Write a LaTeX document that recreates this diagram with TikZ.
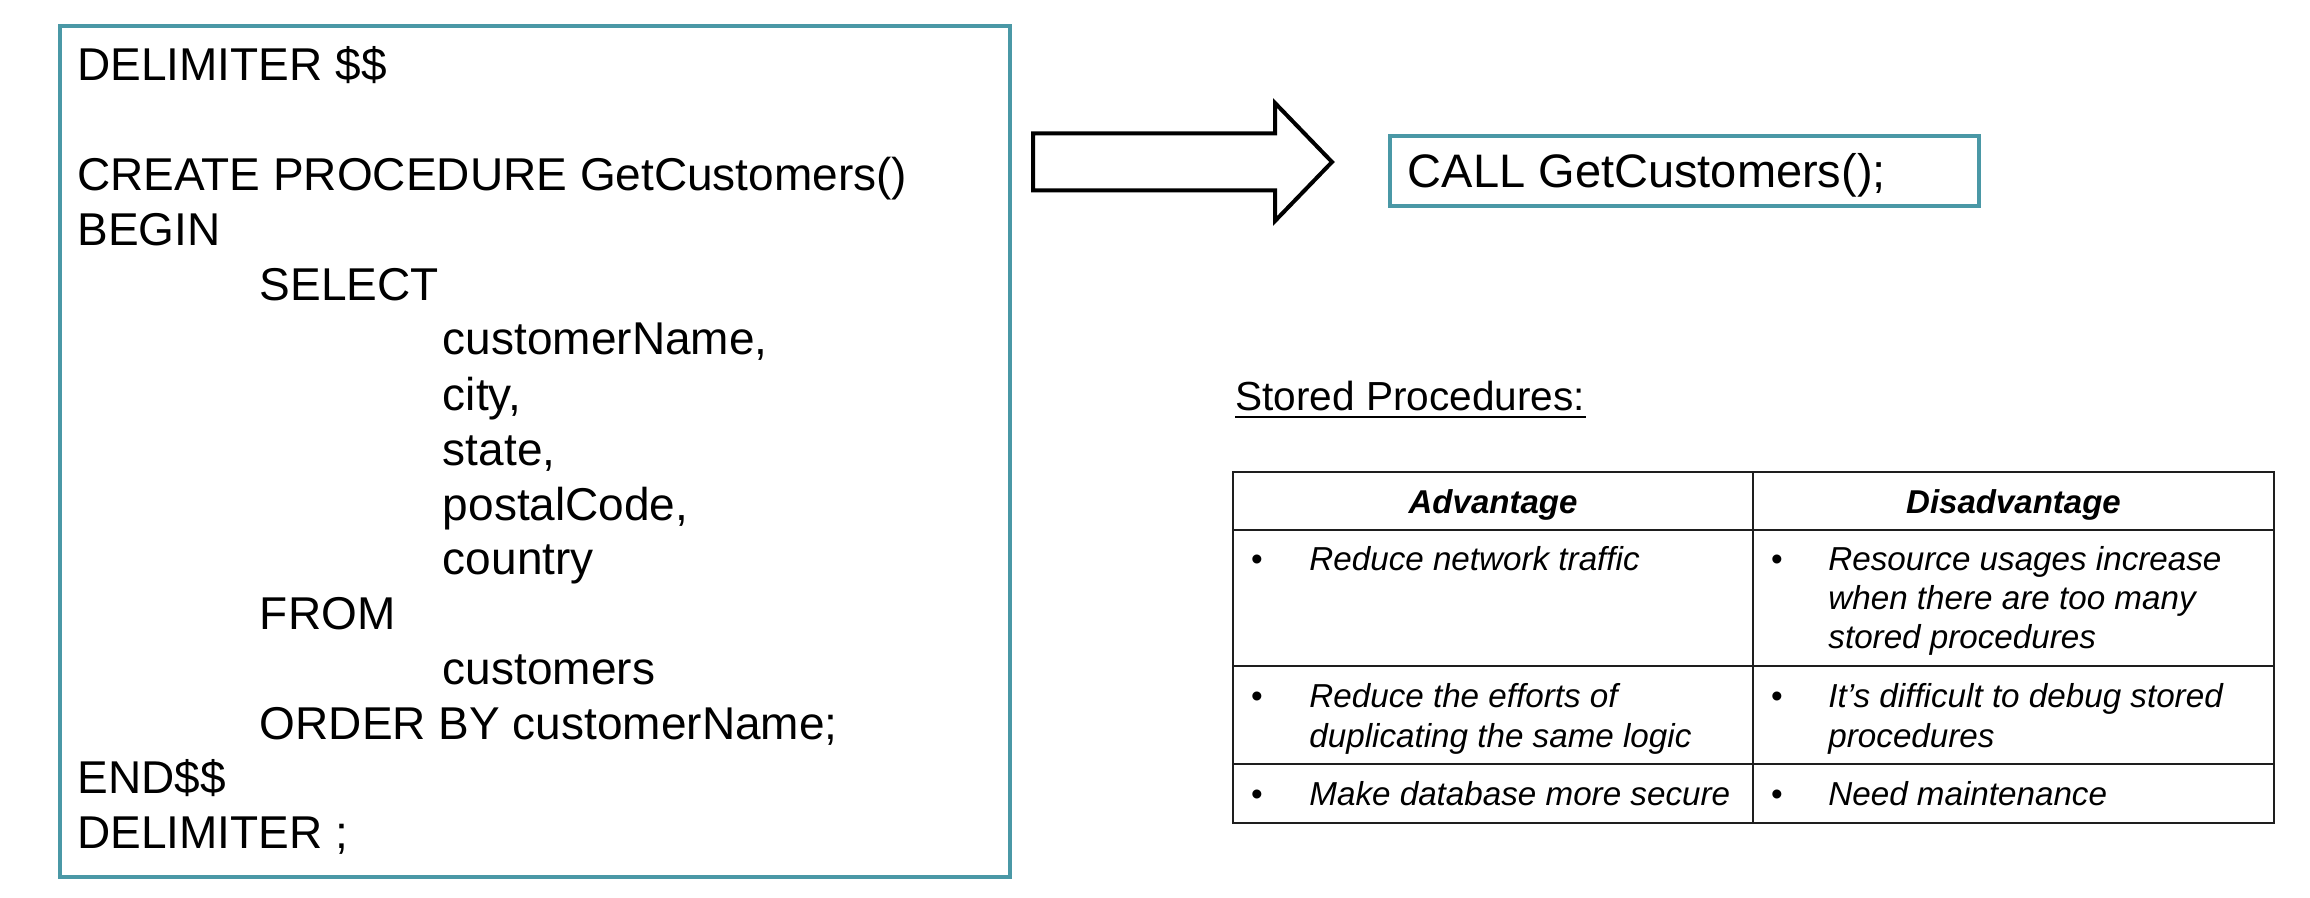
\documentclass[tikz,border=0pt]{standalone}
\usepackage{fontspec}
\setmainfont{Liberation Sans}
\definecolor{teal1}{RGB}{74,152,166}
\definecolor{tabline}{RGB}{30,30,30}
\begin{document}
\begin{tikzpicture}[x=0.5pt,y=-0.5pt,
  code/.style={anchor=base west,inner sep=0pt,font=\fontsize{23}{27}\selectfont},
  callt/.style={anchor=base west,inner sep=0pt,font=\fontsize{23.5}{27}\selectfont},
  hdr/.style={anchor=base,inner sep=0pt,font=\fontsize{16.5}{19}\selectfont\bfseries\itshape},
  cell/.style={anchor=base west,inner sep=0pt,font=\fontsize{16.6}{19}\selectfont\itshape},
  bul/.style={anchor=base,inner sep=0pt,font=\fontsize{16.6}{19}\selectfont},
  tealbox/.style={draw=teal1,line width=2pt,inner sep=0pt},
  tl/.style={draw=tabline,line width=1.3pt}]
\useasboundingbox (0,0) rectangle (2310,898);
\fill[white] (0,0) rectangle (2310,898);
% code box
\node[tealbox,minimum width=475pt,minimum height=425.5pt] (codebox) at (534.5,451.2) {};
\node[code] (l1) at (77,81) {DELIMITER \$\$};
\node[code] (l2) at (77,191) {CREATE PROCEDURE GetCustomers()};
\node[code] (l3) at (77,246) {BEGIN};
\node[code] (l4) at (259.5,301) {SELECT};
\node[code] (l5) at (442.5,355) {customerName,};
\node[code] (l6) at (442.5,410) {city,};
\node[code] (l7) at (442.5,465) {state,};
\node[code] (l8) at (442.5,520) {postalCode,};
\node[code] (l9) at (442.5,574) {country};
\node[code] (l10) at (259.5,629) {FROM};
\node[code] (l11) at (442.5,684) {customers};
\node[code] (l12) at (259.5,739) {ORDER BY customerName;};
\node[code] (l13) at (77,793) {END\$\$};
\node[code] (l14) at (77,848) {DELIMITER ;};
% block arrow
\draw[line width=2pt,line join=miter,fill=white] (1033,133.5) -- (1275,133.5) -- (1275,103) -- (1332,162) -- (1275,221) -- (1275,190.5) -- (1033,190.5) -- cycle;
% call box
\node[tealbox,minimum width=294.5pt,minimum height=35pt] (callbox) at (1684.5,171) {};
\node[callt] (callt) at (1407.5,188) {CALL GetCustomers();};
% stored procedures title
\node[anchor=base west,inner sep=0pt,font=\fontsize{20.3}{23}\selectfont] (sp) at (1235,410) {Stored Procedures:};
\draw[line width=1pt] ([yshift=-3.3pt]sp.base west) -- ([yshift=-3.3pt]sp.base east);
% table
\draw[tl] (1233,472) rectangle (2274,823);
\draw[tl] (1753,472) -- (1753,823);
\draw[tl] (1233,530) -- (2274,530);
\draw[tl] (1233,666) -- (2274,666);
\draw[tl] (1233,764) -- (2274,764);
\node[hdr] (h1) at (1493,513) {Advantage};
\node[hdr] (h2) at (2013.5,513) {Disadvantage};
% row 1
\node[bul] (b11) at (1257,570) {•};
\node[cell] (a1) at (1309,570) {Reduce network traffic};
\node[bul] (b12) at (1777,570) {•};
\node[cell] (d1a) at (1828,570) {Resource usages increase};
\node[cell] (d1b) at (1828,609) {when there are too many};
\node[cell] (d1c) at (1828,648) {stored procedures};
% row 2
\node[bul] (b21) at (1257,707) {•};
\node[cell] (a2a) at (1309,707) {Reduce the efforts of};
\node[cell] (a2b) at (1309,747) {duplicating the same logic};
\node[bul] (b22) at (1777,707) {•};
\node[cell] (d2a) at (1828,707) {It’s difficult to debug stored};
\node[cell] (d2b) at (1828,747) {procedures};
% row 3
\node[bul] (b31) at (1257,805) {•};
\node[cell] (a3) at (1309,805) {Make database more secure};
\node[bul] (b32) at (1777,805) {•};
\node[cell] (d3) at (1828,805) {Need maintenance};
\end{tikzpicture}
\end{document}
